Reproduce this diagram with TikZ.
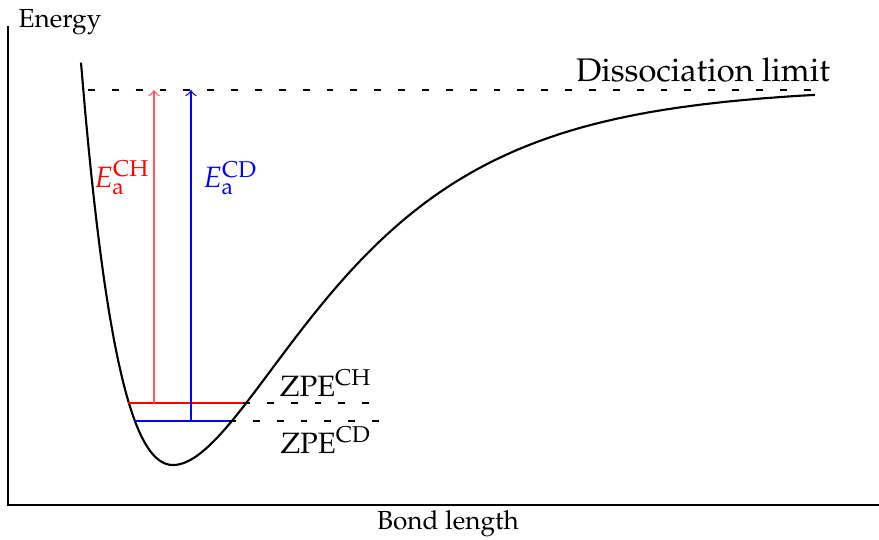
\documentclass[tikz,border=0pt]{standalone}
\usepackage[T1]{fontenc}
\usepackage{mathpazo}
\usepackage{tikz}

\begin{document}
\begin{tikzpicture}[
    x=0.306pt, y=-0.306pt,
    axis/.style={line width=0.4pt},
    morse/.style={line width=0.65pt},
    zpe/.style={line width=0.65pt},
    guide/.style={dash pattern=on 2.1pt off 5.2pt, line width=0.4pt},
    arr/.style={->, line width=0.4pt},
    lbl/.style={inner sep=0pt},
    axlbl/.style={lbl, font=\footnotesize},
    lvl/.style={lbl, font=\small},
]
\useasboundingbox (0,0) rectangle (879,539);
% axes
\coordinate (origin) at (8,505);
\coordinate (ytop) at (8,26);
\coordinate (xend) at (879,505);
\draw[axis] (ytop) -- (origin) -- (xend);
\node[axlbl, anchor=west] (energy) at (18,22) {Energy};
\node[axlbl] (bond) at (448,524) {Bond length};

% potential curve (steeper wall on the left)
\draw[morse] plot[domain=81:815, samples=160, smooth]
    (\x, {465-378*(1-exp(-((\x<173)?0.0077:0.0071)*(\x-173)))^2});

% dissociation limit
\coordinate (dl) at (88,90);
\coordinate (dr) at (815,90);
\draw[guide] (dl) -- (dr);
\node[lbl] (diss) at (703,70) {Dissociation limit};

% zero-point levels
\coordinate (chl) at (128,403);
\coordinate (chr) at (243,403);
\coordinate (cdl) at (134,421);
\coordinate (cdr) at (229,421);
\coordinate (chg) at (380,403);
\coordinate (cdg) at (380,421);
\draw[zpe, red] (chl) -- (chr);
\draw[zpe, blue] (cdl) -- (cdr);
\draw[guide] (chr) -- (chg);
\draw[guide] (cdr) -- (cdg);
\node[lvl] (zpech) at (326,383) {$\mathrm{ZPE}^{\mathrm{CH}}$};
\node[lvl] (zpecd) at (326,440) {$\mathrm{ZPE}^{\mathrm{CD}}$};

% activation energies
\coordinate (chb) at (154,403);
\coordinate (cht) at (154,90);
\coordinate (cdb) at (191,421);
\coordinate (cdt) at (191,90);
\draw[arr, red!65] (chb) -- node[lvl, pos=0.72, left=1pt, text=red] (each) {$E_{\mathrm{a}}^{\mathrm{CH}}$} (cht);
\draw[arr, blue] (cdb) -- node[lvl, pos=0.734, right=3.5pt] (eacd) {$E_{\mathrm{a}}^{\mathrm{CD}}$} (cdt);
\end{tikzpicture}
\end{document}
